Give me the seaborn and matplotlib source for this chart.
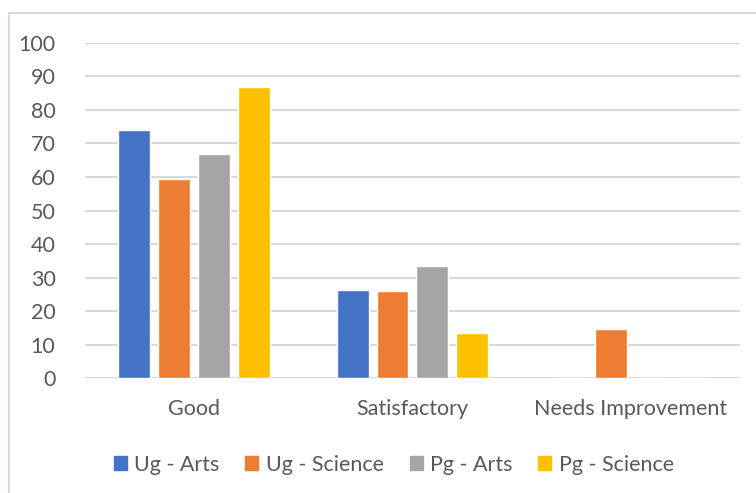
import pandas as pd
import matplotlib.pyplot as plt
import seaborn as sns
from matplotlib.patches import Rectangle, Patch

# data
categories = ['Good', 'Satisfactory', 'Needs Improvement']
groups = ['Ug - Arts', 'Ug - Science', 'Pg - Arts', 'Pg - Science']
ug_arts = [74.0, 26.3, 0]
ug_science = [59.4, 26.0, 14.7]
pg_arts = [66.8, 33.5, 0]
pg_science = [86.8, 13.5, 0]
colors = ['#4472C4', '#ED7D31', '#A5A5A5', '#FFC000']
yticks = [0, 10, 20, 30, 40, 50, 60, 70, 80, 90, 100]

rows = []
for g, vals in zip(groups, [ug_arts, ug_science, pg_arts, pg_science]):
    for c, v in zip(categories, vals):
        rows.append({'category': c, 'group': g, 'value': v})
df = pd.DataFrame(rows)

sns.set_theme(style='white')
plt.rcParams['font.family'] = ['Lato', 'DejaVu Sans']
text_col = '#595959'
fs = 15.5

fig = plt.figure(figsize=(7.56, 4.93), dpi=100)
ax = fig.add_axes([0.112, 0.233, 0.867, 0.68])

sns.barplot(data=df, x='category', y='value', hue='group', hue_order=groups,
            palette=colors, width=0.73, gap=0.2, saturation=1, ax=ax,
            legend=False, zorder=3)

ax.set_ylim(0, 100)
ax.set_xlim(-0.5, 2.5)
ax.set_yticks(yticks)
ax.set_yticklabels([str(t) for t in yticks])
ax.yaxis.grid(True, color='#D9D9D9', linewidth=1.5, zorder=0)
ax.set_axisbelow(True)
for s in ax.spines.values():
    s.set_visible(False)
ax.axhline(0, color='#D9D9D9', linewidth=1.5, zorder=1)
ax.set_xlabel('')
ax.set_ylabel('')
ax.tick_params(axis='y', length=0, pad=21, labelsize=fs, labelcolor=text_col)
ax.tick_params(axis='x', length=0, pad=15, labelsize=fs, labelcolor=text_col)

handles = [Patch(color=c, label=g) for g, c in zip(groups, colors)]
fig.legend(handles=handles, loc='center', bbox_to_anchor=(0.521, 0.057), ncol=4,
           frameon=False, handlelength=0.6, handleheight=0.6, handletextpad=0.35,
           columnspacing=1.2, fontsize=fs, labelcolor=text_col)

fig.patches.append(Rectangle((0.012, -0.02), 1.0, 0.994, transform=fig.transFigure,
                             fill=False, edgecolor='#D9D9D9', linewidth=1.5))

fig.savefig('out.png', dpi=100)
